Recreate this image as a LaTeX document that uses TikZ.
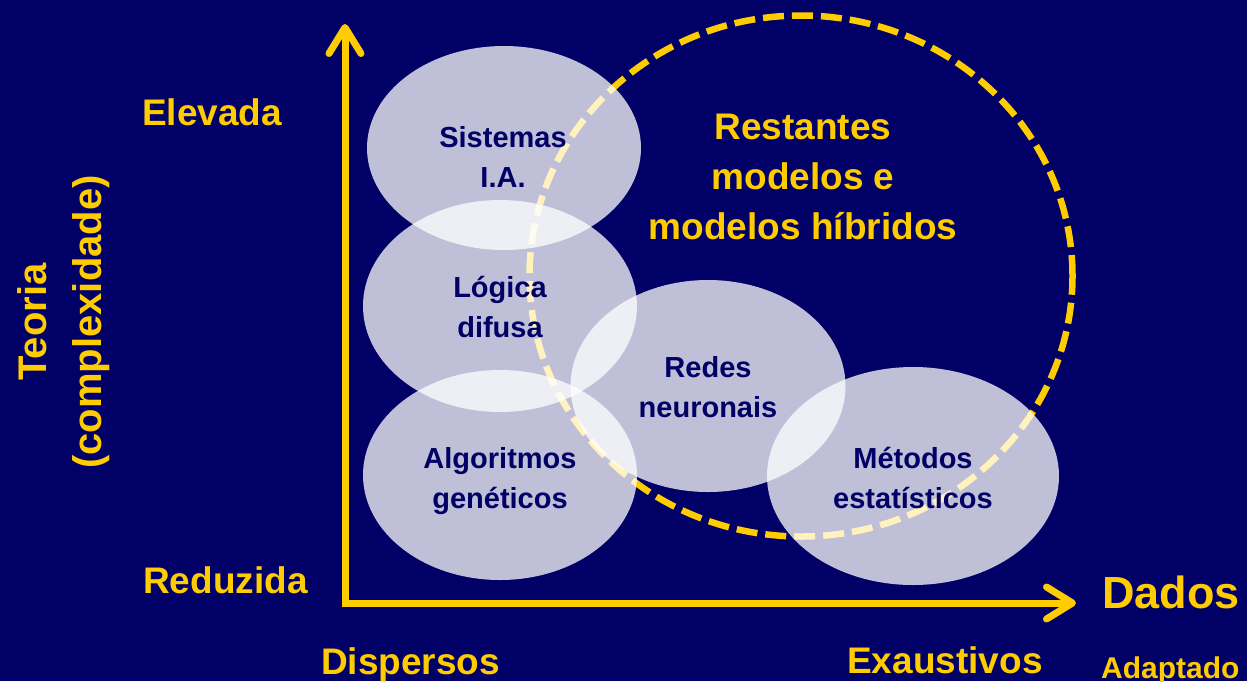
\documentclass[tikz,border=0pt]{standalone}
\usepackage{fontspec}
\setmainfont{Liberation Sans}
\usetikzlibrary{shapes.geometric,arrows.meta}
\definecolor{navy}{HTML}{000066}
\definecolor{gold}{HTML}{FFCC00}
\begin{document}
\begin{tikzpicture}[x=1pt,y=-1pt,
  blob/.style={ellipse, fill=white, fill opacity=0.75, inner sep=0pt, draw=none},
  blabel/.style={text=navy, font=\bfseries\fontsize{29}{40}\selectfont, align=center, inner sep=0pt},
  ylabel/.style={text=gold, font=\bfseries\fontsize{37}{44}\selectfont, inner sep=0pt},
  axisline/.style={draw=gold, line width=7pt, line join=miter, {Straight Barb[length=26pt, width=32pt, round]}-{Straight Barb[length=26pt, width=32pt, round]}},
  zone/.style={draw=gold, line width=6.5pt, dash pattern=on 21pt off 8pt}]
\fill[navy] (0,0) rectangle (1247,681);
\useasboundingbox (0,0) rectangle (1247,681);

% dashed region
\node[ellipse, zone, minimum width=543pt, minimum height=521pt, inner sep=0pt] (zonee) at (801,276) {};

% axes
\coordinate (ytip) at (345,24);
\coordinate (origin) at (345,603);
\coordinate (xtip) at (1076,603);
\draw[axisline] (ytip) -- (origin) -- (xtip);

% ellipses
\node[blob, minimum width=274pt, minimum height=204pt] (sia) at (504,148) {};
\node[blob, minimum width=274pt, minimum height=212pt] (logica) at (500,306) {};
\node[blob, minimum width=274pt, minimum height=210pt] (alg) at (500,475) {};
\node[blob, minimum width=275pt, minimum height=212pt] (redes) at (708,386) {};
\node[blob, minimum width=292pt, minimum height=218pt] (met) at (913,476) {};

% ellipse labels
\node[blabel] (siaT) at (503,157) {Sistemas\\I.A.};
\node[blabel] (logicaT) at (500,307) {Lógica\\difusa};
\node[blabel] (redesT) at (708,387) {Redes\\neuronais};
\node[blabel] (algT) at (500,481) {Algoritmos\\genéticos};
\node[blabel] (metT) at (913,478) {Métodos\\estatísticos};

% region label
\node[ylabel, align=center, font=\bfseries\fontsize{37}{50}\selectfont] (rest) at (803,177) {Restantes\\modelos e\\modelos híbridos};

% axis labels
\node[ylabel, anchor=base west] (elev) at (142,125) {Elevada};
\node[ylabel, anchor=base west] (red) at (143,593) {Reduzida};
\node[ylabel, anchor=base west] (disp) at (321,674) {Dispersos};
\node[ylabel, anchor=base west] (exa) at (847,673) {Exaustivos};
\node[ylabel, anchor=base west, font=\bfseries\fontsize{45}{50}\selectfont] (dados) at (1102,608) {Dados};
\node[ylabel, anchor=base west, font=\bfseries\fontsize{30}{36}\selectfont] (adapt) at (1101,678) {Adaptado};
\node[ylabel, align=center, rotate=90, font=\bfseries\fontsize{40}{55}\selectfont] (teoria) at (64,322) {Teoria\\(complexidade)};
\end{tikzpicture}
\end{document}
